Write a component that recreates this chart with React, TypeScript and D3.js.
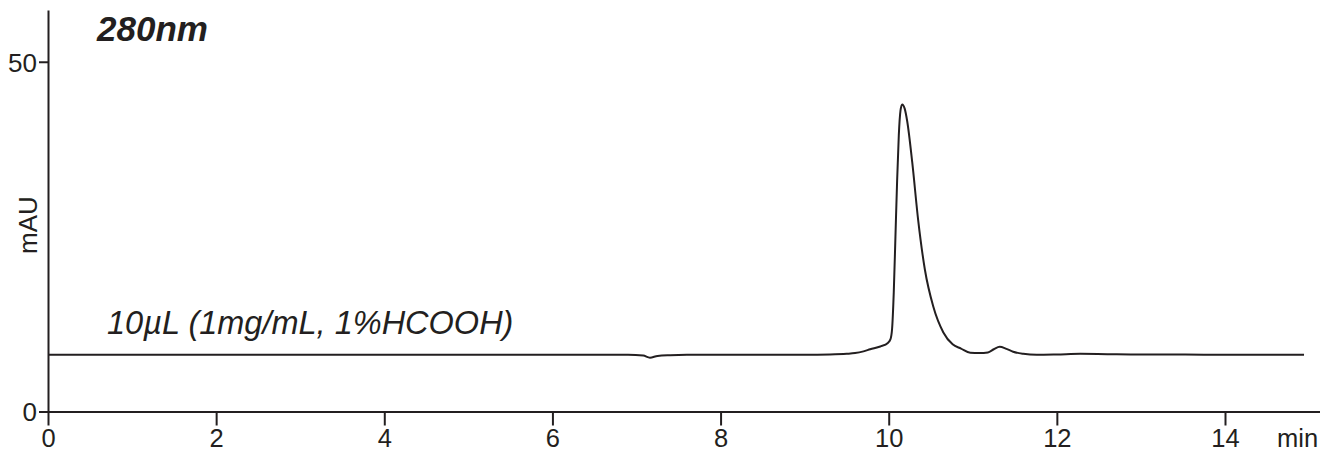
import { useEffect, useRef } from 'react';
import * as d3 from 'd3';

// retention time (min) and absorbance (mAU)
const TIME = [
  0, 1, 2, 3, 4, 5, 6, 6.9, 7.08, 7.16, 7.25, 7.4, 7.6, 7.8, 8, 8.5, 9, 9.3, 9.5, 9.6, 9.7, 9.78,
  9.9, 9.99, 10.02, 10.04, 10.06, 10.08, 10.1, 10.12, 10.14, 10.16, 10.19, 10.22, 10.28, 10.35,
  10.43, 10.53, 10.65, 10.76, 10.86, 10.97, 11.08, 11.18, 11.25, 11.32, 11.4, 11.48, 11.6, 11.76,
  12, 12.28, 12.6, 13, 13.5, 14, 14.5, 14.94,
];
const ABS = [
  8.1, 8.1, 8.1, 8.1, 8.1, 8.1, 8.1, 8.1, 8.0, 7.7, 7.95, 8.05, 8.1, 8.1, 8.1, 8.1, 8.1, 8.15, 8.25, 8.35, 8.6, 8.9,
  9.3, 9.8, 10.3, 11.8, 17, 25, 33, 39.5, 43, 43.9, 43.3, 41.5, 35.6, 27.4,
  20.3, 15.0, 11.3, 9.6, 9.0, 8.4, 8.35, 8.45, 8.9, 9.25, 8.95, 8.55, 8.25, 8.1,
  8.15, 8.25, 8.2, 8.15, 8.15, 8.1, 8.1, 8.1,
];
const X_TICKS = [0, 2, 4, 6, 8, 10, 12, 14];
const Y_TICKS = [0, 50];

const INK = '#231f20';
const FONT = '"Liberation Sans", Arial, sans-serif';

export default function App() {
  const svgRef = useRef<SVGSVGElement>(null);

  useEffect(() => {
    if (!svgRef.current) return;
    const W = 1320, H = 453;
    const svg = d3.select(svgRef.current).attr('width', W).attr('height', H);
    svg.selectAll('*').remove();

    const x = d3.scaleLinear().domain([0, 15.13]).range([48, 1320]);
    const y = d3.scaleLinear().domain([0, 57.4]).range([411.5, 10]);

    // x axis
    const xAxis = svg.append('g').attr('transform', `translate(0,${y(0)})`)
      .call(d3.axisBottom(x).tickValues(X_TICKS).tickSize(14).tickSizeOuter(0).tickFormat(d => `${d}`));
    xAxis.selectAll('text').attr('dy', 0).attr('y', 35.5)
      .style('font-family', FONT).style('font-size', '25.5px').style('fill', INK);

    // y axis
    const yAxis = svg.append('g').attr('transform', `translate(${x(0)},0)`)
      .call(d3.axisLeft(y).tickValues(Y_TICKS).tickSize(9).tickSizeOuter(0).tickFormat(d => `${d}`));
    yAxis.selectAll('text').attr('x', -11).attr('dy', '0.36em')
      .style('font-family', FONT).style('font-size', '26px').style('fill', INK);

    svg.selectAll('.domain').style('stroke', INK).style('stroke-width', 2);
    svg.selectAll('.tick line').style('stroke', INK).style('stroke-width', 2);

    svg.append('text').attr('x', 1277).attr('y', 447)
      .style('font-family', FONT).style('font-size', '25.5px').style('fill', INK).text('min');

    svg.append('text').attr('transform', `translate(37,225) rotate(-90)`)
      .attr('text-anchor', 'middle')
      .style('font-family', FONT).style('font-size', '26px').style('fill', INK).text('mAU');

    svg.append('text').attr('x', 97).attr('y', 41)
      .style('font-family', FONT).style('font-size', '35px').style('font-weight', 'bold')
      .style('font-style', 'italic').style('fill', INK).text('280nm');

    svg.append('text').attr('x', 107).attr('y', 334)
      .style('font-family', FONT).style('font-size', '32.5px')
      .style('font-style', 'italic').style('fill', INK).text('10µL (1mg/mL, 1%HCOOH)');

    const pts = TIME.map((t, i) => [t, ABS[i]] as [number, number]);
    const line = d3.line<[number, number]>()
      .x(d => x(d[0])).y(d => y(d[1]))
      .curve(d3.curveMonotoneX);
    svg.append('path').datum(pts).attr('d', line)
      .style('fill', 'none').style('stroke', INK).style('stroke-width', 2);
  }, []);

  return (
    <div style={{ position: 'absolute', left: 0, top: 0, background: '#fff' }}>
      <svg ref={svgRef} style={{ display: 'block' }} />
    </div>
  );
}
